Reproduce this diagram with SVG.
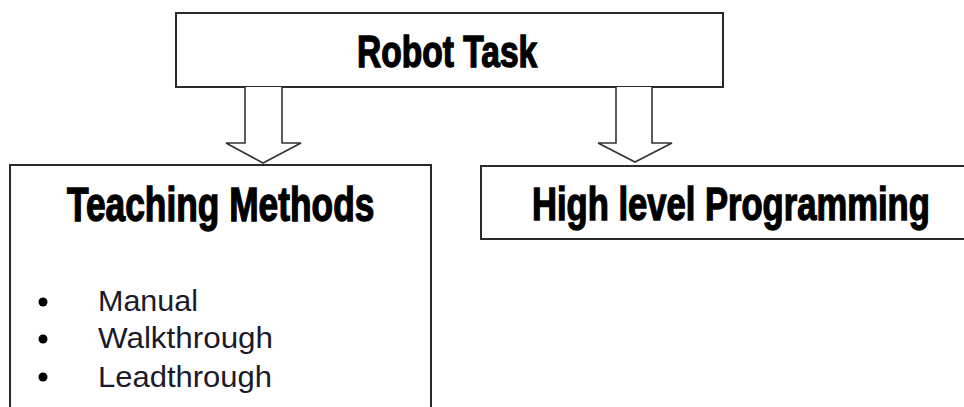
<svg xmlns="http://www.w3.org/2000/svg" width="964" height="407" viewBox="0 0 964 407">
  <style>
    .box { fill: #ffffff; stroke: #2a2a2a; stroke-width: 2; }
    .arrow { fill: #ffffff; stroke: #333333; stroke-width: 1.6; stroke-linejoin: miter; }
    .title { font-family: "Liberation Sans", Arial, sans-serif; font-weight: bold; fill: #000000; stroke: #000000; stroke-width: 1.4; }
    .item { font-family: "Liberation Sans", Arial, sans-serif; font-size: 30px; fill: #1a1a2a; }
  </style>
  <rect width="964" height="407" fill="#ffffff"/>

  <!-- Robot task -->
  <g id="robot-task">
    <rect class="box" x="176" y="13" width="547" height="74"/>
    <text class="title" transform="translate(357,67) scale(0.763,1)" x="0" y="0" font-size="44">Robot Task</text>
  </g>

  <!-- Teaching methods -->
  <g id="teaching-methods">
    <rect class="box" x="10" y="165" width="421" height="260"/>
    <text class="title" transform="translate(67,221) scale(0.736,1)" x="0" y="0" font-size="48">Teaching Methods</text>
    <circle cx="43" cy="302" r="4.5" fill="#000"/>
    <circle cx="43" cy="339" r="4.5" fill="#000"/>
    <circle cx="43" cy="377" r="4.5" fill="#000"/>
    <text class="item" x="98" y="311" textLength="100" lengthAdjust="spacingAndGlyphs">Manual</text>
    <text class="item" x="98" y="348" textLength="175" lengthAdjust="spacingAndGlyphs">Walkthrough</text>
    <text class="item" x="98" y="387" textLength="174" lengthAdjust="spacingAndGlyphs">Leadthrough</text>
  </g>

  <!-- High level programming -->
  <g id="high-level-programming">
    <rect class="box" x="481" y="166" width="500" height="73"/>
    <text class="title" transform="translate(532,220) scale(0.752,1)" x="0" y="0" font-size="46">High level Programming</text>
  </g>

  <!-- Block arrows -->
  <g id="connectors">
    <path class="arrow" d="M245,87 V143 H226 L263,163 L301,143 H282 V87"/>
    <path class="arrow" d="M616,87 V143 H598 L635,162 L672,143 H652 V87"/>
  </g>
</svg>
